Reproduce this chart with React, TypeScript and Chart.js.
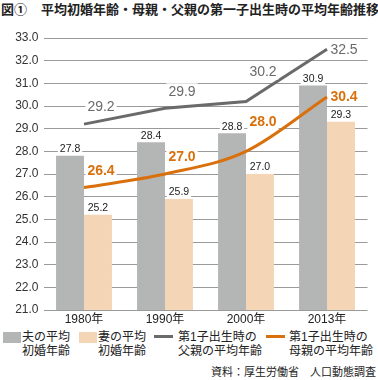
import React, { useEffect, useRef } from "react";
import { Chart, registerables } from "chart.js";

Chart.register(...registerables);

const categories = ["1980年", "1990年", "2000年", "2013年"];
const husbandAge = [27.8, 28.4, 28.8, 30.9];
const wifeAge = [25.2, 25.9, 27.0, 29.3];
const fatherFirstChildAge = [29.2, 29.9, 30.2, 32.5];
const motherFirstChildAge = [26.4, 27.0, 28.0, 30.4];
const yMin = 21;
const yMax = 33;
const yStep = 1;

const FONT = "'Liberation Sans', 'Noto Sans CJK JP', sans-serif";
const JFONT = "'Noto Sans CJK JP', sans-serif";

const GREY_BAR = "#b4b5b5";
const PEACH_BAR = "#f4d5b5";
const FATHER = "#6a6a6b";
const MOTHER = "#d9700c";

// label offsets (style) for line labels, per point index
const lineLabelOffsets = [
  [17, -17],
  [17, -17],
  [17, -30],
  [17, 0],
];

const labelPlugin = {
  id: "valueLabels",
  afterDatasetsDraw(chart: any) {
    const ctx = chart.ctx;
    ctx.save();
    chart.data.datasets.forEach((ds: any, di: number) => {
      const meta = chart.getDatasetMeta(di);
      if (meta.hidden) return;
      meta.data.forEach((el: any, i: number) => {
        const v = ds.data[i] as number;
        const text = v.toFixed(1);
        let cx: number, cy: number, font: string, color: string, h: number;
        if (ds.type === "bar") {
          cx = el.x;
          cy = el.y - 7;
          font = `10.5px ${FONT}`;
          color = "#222";
          h = 12;
        } else {
          const off = lineLabelOffsets[i];
          cx = el.x + off[0];
          cy = el.y + off[1];
          font = ds.labelBold ? `bold 14px ${FONT}` : `14px ${FONT}`;
          color = ds.borderColor;
          h = 16;
        }
        ctx.font = font;
        const w = ctx.measureText(text).width;
        ctx.fillStyle = "#ffffff";
        ctx.fillRect(cx - w / 2 - 2, cy - h / 2, w + 4, h);
        ctx.fillStyle = color;
        ctx.textAlign = "center";
        ctx.textBaseline = "middle";
        ctx.fillText(text, cx, cy + 0.5);
      });
    });
    ctx.restore();
  },
};

export default function App() {
  const canvasRef = useRef<HTMLCanvasElement | null>(null);

  useEffect(() => {
    if (!canvasRef.current) return;
    const chart = new Chart(canvasRef.current, {
      type: "bar",
      data: {
        labels: categories,
        datasets: [
          {
            type: "bar",
            label: "夫の平均初婚年齢",
            data: husbandAge,
            backgroundColor: GREY_BAR,
            order: 2,
            categoryPercentage: 0.69,
            barPercentage: 1.0,
          } as any,
          {
            type: "bar",
            label: "妻の平均初婚年齢",
            data: wifeAge,
            backgroundColor: PEACH_BAR,
            order: 2,
            categoryPercentage: 0.69,
            barPercentage: 1.0,
          } as any,
          {
            type: "line",
            label: "第1子出生時の父親の平均年齢",
            data: fatherFirstChildAge,
            borderColor: FATHER,
            backgroundColor: FATHER,
            borderWidth: 3,
            pointRadius: 0,
            tension: 0,
            order: 1,
            labelBold: false,
          } as any,
          {
            type: "line",
            label: "第1子出生時の母親の平均年齢",
            data: motherFirstChildAge,
            borderColor: MOTHER,
            backgroundColor: MOTHER,
            borderWidth: 3,
            pointRadius: 0,
            cubicInterpolationMode: "monotone",
            order: 0,
            labelBold: true,
          } as any,
        ],
      },
      options: {
        animation: false,
        responsive: false,
        layout: { padding: { left: 0, right: 10.5, top: 38, bottom: 0 } },
        plugins: {
          legend: { display: false },
          title: { display: false },
          tooltip: { enabled: false },
        },
        scales: {
          x: {
            grid: { display: false, drawTicks: false },
            border: { display: false },
            ticks: {
              color: "#222",
              font: { size: 12, family: FONT },
              padding: 2,
            },
            afterFit: (s: any) => {
              s.height = 20;
            },
          },
          y: {
            min: yMin,
            max: yMax,
            grid: { color: "#9a9a9a", lineWidth: 1, drawTicks: false },
            border: { display: false },
            ticks: {
              stepSize: yStep,
              color: "#333",
              font: { size: 12, family: FONT },
              padding: 5,
              callback: (v: any) => Number(v).toFixed(1),
            },
            afterFit: (s: any) => {
              s.width = 43.5;
            },
          },
        },
      },
      plugins: [labelPlugin],
    });
    return () => chart.destroy();
  }, []);

  const legendText: React.CSSProperties = {
    position: "absolute",
    fontFamily: FONT,
    fontSize: 12,
    lineHeight: "14px",
    color: "#222",
    whiteSpace: "nowrap",
  };

  return (
    <div
      style={{
        position: "absolute",
        top: 0,
        left: 0,
        width: 378,
        height: 380,
        background: "#fff",
        overflow: "hidden",
      }}
    >
      <div
        style={{
          position: "absolute",
          top: 1,
          left: 1,
          fontFamily: JFONT,
          fontSize: 13,
          fontWeight: "bold",
          lineHeight: "16px",
          color: "#222",
          whiteSpace: "nowrap",
        }}
      >
        図①<span style={{ display: "inline-block", width: 14 }} />
        平均初婚年齢・母親・父親の第一子出生時の平均年齢推移
      </div>
      <canvas
        ref={canvasRef}
        width={378}
        height={330}
        style={{ position: "absolute", top: 0, left: 0, width: 378, height: 330 }}
      />
      {/* legend */}
      <div style={{ position: "absolute", left: 3, top: 332, width: 18, height: 11, background: GREY_BAR }} />
      <div style={{ ...legendText, left: 22, top: 330 }}>
        夫の平均
        <br />
        初婚年齢
      </div>
      <div style={{ position: "absolute", left: 79, top: 332, width: 18, height: 11, background: PEACH_BAR }} />
      <div style={{ ...legendText, left: 98, top: 330 }}>
        妻の平均
        <br />
        初婚年齢
      </div>
      <div style={{ position: "absolute", left: 154, top: 335, width: 19, height: 3, background: FATHER }} />
      <div style={{ ...legendText, left: 178, top: 330 }}>
        第1子出生時の
        <br />
        父親の平均年齢
      </div>
      <div style={{ position: "absolute", left: 266, top: 335, width: 19, height: 3, background: MOTHER }} />
      <div style={{ ...legendText, left: 289, top: 330 }}>
        第1子出生時の
        <br />
        母親の平均年齢
      </div>
      <div
        style={{
          position: "absolute",
          right: 2,
          top: 365,
          fontFamily: FONT,
          fontSize: 11,
          lineHeight: "14px",
          color: "#222",
          whiteSpace: "nowrap",
        }}
      >
        資料：厚生労働省　人口動態調査
      </div>
    </div>
  );
}
